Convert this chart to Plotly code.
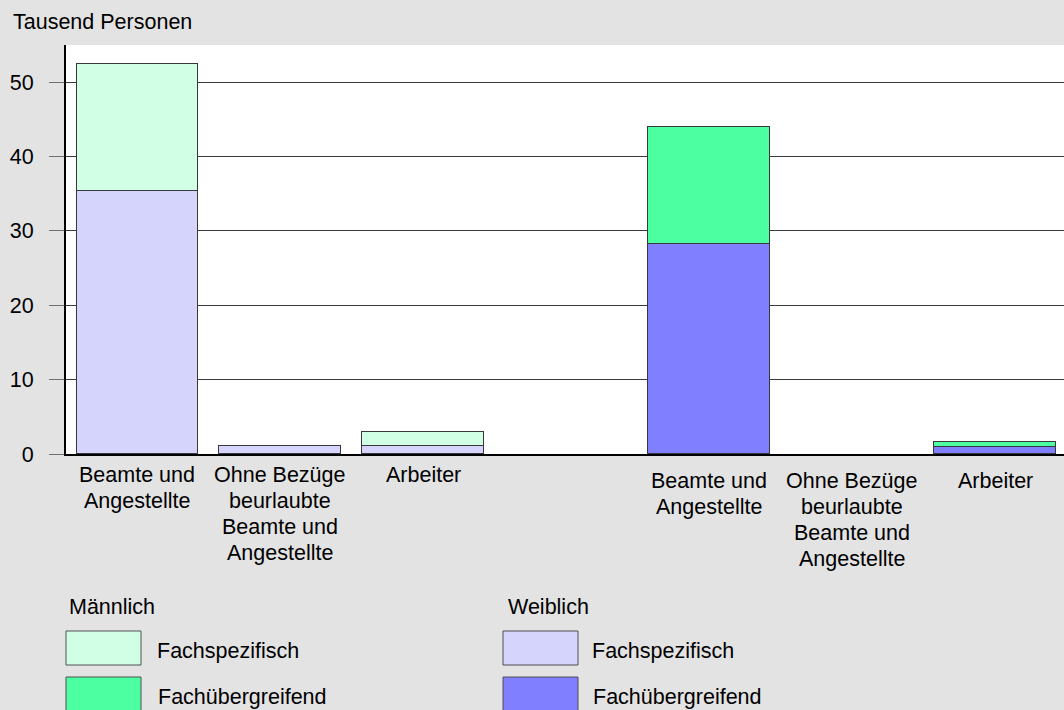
import plotly.graph_objects as go

# Categories (shared by both groups)
categories = ["Beamte und\nAngestellte",
              "Ohne Bezüge\nbeurlaubte\nBeamte und\nAngestellte",
              "Arbeiter"]
pos_spez = [0, 1, 2]          # Fachspezifisch group
pos_uebergr = [4, 5, 6]       # Fachübergreifend group

# Values in thousand persons (None = no bar drawn)
spez_weiblich = [35.4, 1.1, 1.1]
spez_maennlich = [17.0, None, 1.8]
uebergr_weiblich = [28.3, None, 0.9]
uebergr_maennlich = [15.7, None, 0.7]

y_ticks = [0, 10, 20, 30, 40, 50]

# Colours
C_M_SPEZ = "#d0ffe6"
C_M_UEB = "#4cffa0"
C_W_SPEZ = "#d4d4fc"
C_W_UEB = "#7f7fff"
BG = "#e3e3e3"
EDGE = "#383838"
FONT = "Liberation Sans, Arial, sans-serif"
FS = 21.5

W, H = 1064, 710
L, R, T, B = 66, 0, 45, 256
PW, PH = W - L - R, H - T - B


def px_x(px):
    return (px - L) / PW


def px_y(py):
    return (H - B - py) / PH


fig = go.Figure()
bar_w = 0.853
for x, vals, col in [(pos_spez, spez_weiblich, C_W_SPEZ),
                     (pos_spez, spez_maennlich, C_M_SPEZ),
                     (pos_uebergr, uebergr_weiblich, C_W_UEB),
                     (pos_uebergr, uebergr_maennlich, C_M_UEB)]:
    fig.add_trace(go.Bar(x=x, y=vals, width=bar_w, marker_color=col,
                         marker_line=dict(color=EDGE, width=1),
                         showlegend=False, hoverinfo="skip"))

annotations = []
shapes = []

# Category labels under each group
LINE_H = 26
for positions, first_y in [(pos_spez, 475), (pos_uebergr, 481)]:
    for xpos, label in zip(positions, categories):
        for i, line in enumerate(label.split("\n")):
            annotations.append(dict(
                x=xpos, xref="x", y=px_y(first_y + i * LINE_H), yref="paper",
                text=line, showarrow=False, xanchor="center", yanchor="middle",
                font=dict(size=FS, color="#000", family=FONT)))

# Unit label
annotations.append(dict(x=px_x(11), y=px_y(22), xref="paper", yref="paper",
                        text="Tausend Personen", showarrow=False,
                        xanchor="left", yanchor="middle",
                        font=dict(size=FS, color="#000", family=FONT)))

# Legend: two columns, each with a heading and two colour keys
legend_cols = [
    ("Männlich", 67, 66, 155, [("Fachspezifisch", C_M_SPEZ), ("Fachübergreifend", C_M_UEB)]),
    ("Weiblich", 506, 503, 590, [("Fachspezifisch", C_W_SPEZ), ("Fachübergreifend", C_W_UEB)]),
]
key_rows = [(631, 665, 651), (677, 711, 697)]
for title, tx, bx, lx, items in legend_cols:
    annotations.append(dict(x=px_x(tx), y=px_y(607), xref="paper", yref="paper",
                            text=title, showarrow=False, xanchor="left",
                            yanchor="middle",
                            font=dict(size=FS, color="#000", family=FONT)))
    for (label, col), (y0, y1, ty) in zip(items, key_rows):
        shapes.append(dict(type="rect", xref="paper", yref="paper",
                           x0=px_x(bx), x1=px_x(bx + 75),
                           y0=px_y(y1), y1=px_y(y0),
                           fillcolor=col, line=dict(color="#505050", width=1)))
        annotations.append(dict(x=px_x(lx + (1 if label.startswith("Fachü") else 0)),
                                y=px_y(ty), xref="paper", yref="paper",
                                text=label, showarrow=False, xanchor="left",
                                yanchor="middle",
                                font=dict(size=FS, color="#000", family=FONT)))

fig.update_layout(
    width=W, height=H,
    margin=dict(l=L, r=R, t=T, b=B, pad=0),
    paper_bgcolor=BG, plot_bgcolor="white",
    barmode="stack", bargap=0,
    font=dict(family=FONT, size=FS, color="#000"),
    annotations=annotations, shapes=shapes,
    xaxis=dict(range=[-0.5, 6.48], showticklabels=False, showgrid=False,
               zeroline=False, showline=True, linecolor="#000", linewidth=2,
               ticks="", fixedrange=True),
    yaxis=dict(range=[0, 55], tickvals=y_ticks, showgrid=True,
               gridcolor="#3a3a3a", gridwidth=1, zeroline=False,
               showline=True, linecolor="#000", linewidth=2,
               ticks="outside", ticklen=15, tickcolor="#707070", tickwidth=1,
               ticklabelstandoff=11,
               tickfont=dict(size=FS, color="#000", family=FONT)),
)

fig.write_html("out.html")
